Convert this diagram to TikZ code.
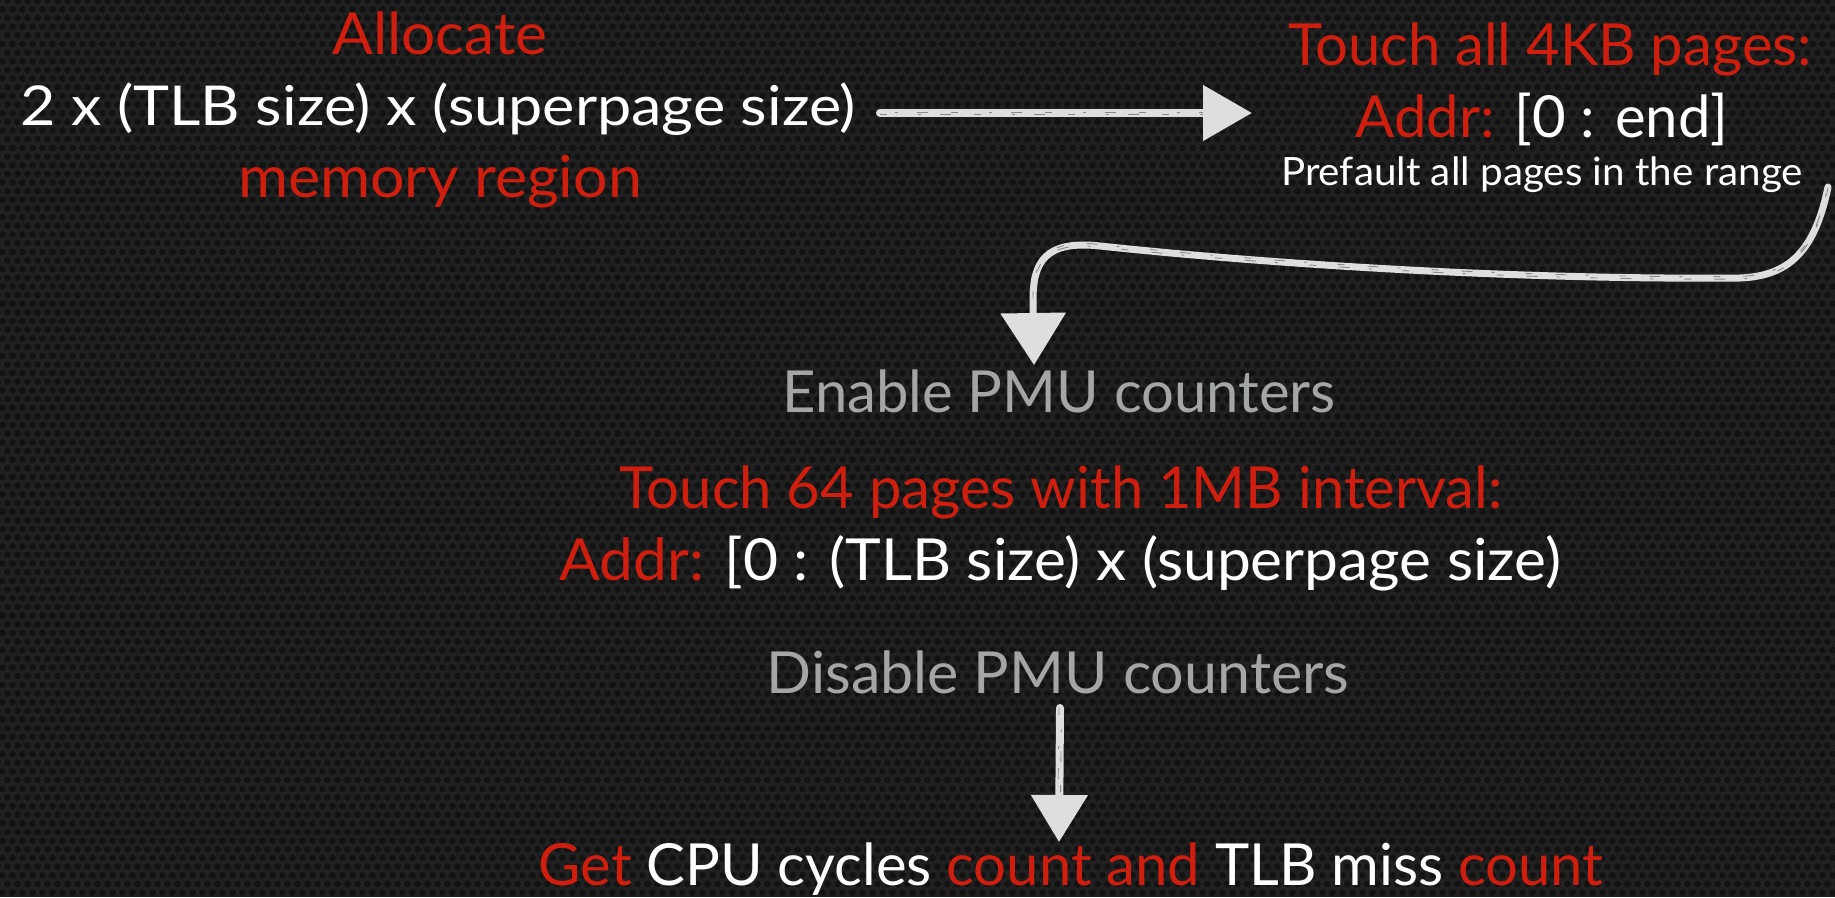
\documentclass[tikz,border=0pt]{standalone}
\usepackage{fontspec}
\setmainfont{Lato}
\usetikzlibrary{arrows.meta,patterns.meta}

\definecolor{bgbase}{HTML}{202020}
\definecolor{bgdot}{HTML}{121212}
\definecolor{accent}{HTML}{D01E0E}
\definecolor{soft}{HTML}{A3A6A4}
\definecolor{chalk}{HTML}{DEDEDE}

% hexagonal perforated-metal texture
\tikzdeclarepattern{
  name=hexmesh,
  type=uncolored,
  bounding box={(-5pt,-5pt) and (15pt,22.32pt)},
  tile size={(10pt,17.32pt)},
  code={
    \fill (2.5pt,4.33pt) circle (3.3pt);
    \fill (7.5pt,12.99pt) circle (3.3pt);
  }
}

\tikzset{
  txt/.style={anchor=base, inner sep=0pt, text=white,
              font=\fontsize{58}{60}\selectfont},
  smalltxt/.style={font=\fontsize{55}{57}\selectfont},
  notetxt/.style={font=\fontsize{39}{41}\selectfont},
  redtxt/.style={text=accent},
  greytxt/.style={text=soft},
  chalkline/.style={draw=chalk, line width=8pt, line cap=round},
  streak/.style={draw=bgbase, line width=0.9pt, opacity=0.45,
                 dash pattern=on 7pt off 31pt on 3pt off 19pt on 11pt off 23pt},
}

% route of the bent connector from the prefault step down to the counters
\newcommand\bendroute{(s2) .. controls (1815,250) and (1790,276) .. (1740,278)
         .. controls (1500,280) and (1250,262) .. (1100,246)
         .. controls (1045,240) and (1033,262) .. (1033,300)}

\begin{document}
\begin{tikzpicture}[x=1pt,y=-1pt]
  % backdrop
  \fill[bgbase] (0,0) rectangle (1835,897);
  \fill[pattern=hexmesh, pattern color=bgdot] (0,0) rectangle (1835,897);
  \useasboundingbox (0,0) rectangle (1835,897);

  % allocation step
  \node[txt, redtxt] (alloc) at (440,54) {\scalebox{1.04}[1]{Allocate}};
  \node[txt, smalltxt] (region) at (438,125) {\scalebox{1.11}[1]{2 x (TLB size) x (superpage size)}};
  \node[txt, redtxt] (mem) at (440,197) {\scalebox{1.05}[1]{memory region}};

  % prefault step
  \node[txt, redtxt] (touchall) at (1550,65) {Touch all 4KB pages:};
  \node[txt] (addrall) at (1542,137) {\textcolor{accent}{Addr:} [0 : end]};
  \node[txt, notetxt] (prefault) at (1542,185) {\scalebox{1.035}[1]{Prefault all pages in the range}};

  % measurement step
  \node[txt, greytxt] (enable) at (1059,412) {Enable PMU counters};
  \node[txt, redtxt] (touch64) at (1061,508) {Touch 64 pages with 1MB interval:};
  \node[txt] (addr64) at (1060,580) {\scalebox{1.042}[1]{\textcolor{accent}{Addr:} [0 : (TLB size) x (superpage size)}};
  \node[txt, greytxt] (disable) at (1058,693) {\scalebox{1.02}[1]{Disable PMU counters}};
  \node[txt] (result) at (1071,885) {\textcolor{accent}{Get} CPU cycles \textcolor{accent}{count and} TLB miss \textcolor{accent}{count}};

  % arrow end points
  \coordinate (s1) at (880,113);
  \coordinate (e1) at (1252,113);
  \coordinate (s2) at (1828,187);
  \coordinate (e2) at (1034,365);
  \coordinate (s3) at (1060,708);
  \coordinate (e3) at (1059,842);

  % chalk arrows
  \draw[chalkline, -{Triangle[length=49pt,width=54pt]}] (s1) -- (e1);
  \draw[chalkline, line width=7pt, -{Triangle[length=52pt,width=64pt]}]
    \bendroute -- (e2);
  \draw[chalkline, -{Triangle[length=47pt,width=55pt]}] (s3) -- (e3);

  % rough chalk grain along the shafts
  \begin{scope}[streak]
    \draw[transform canvas={yshift=-1.5pt}] (s1) -- ([xshift=-49pt]e1);
    \draw[transform canvas={yshift=1pt}, dash phase=23pt] (s1) -- ([xshift=-49pt]e1);
    \draw[transform canvas={yshift=-1pt}] \bendroute;
    \draw[transform canvas={yshift=1.5pt}, dash phase=29pt] \bendroute;
    \draw[transform canvas={xshift=-1pt}] (s3) -- ([yshift=47pt]e3);
    \draw[transform canvas={xshift=1.5pt}, dash phase=17pt] (s3) -- ([yshift=47pt]e3);
  \end{scope}
\end{tikzpicture}
\end{document}
